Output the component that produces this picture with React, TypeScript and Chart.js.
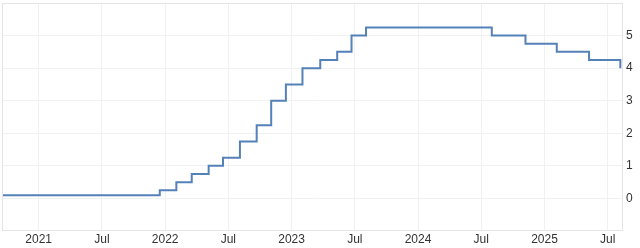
import React, { useEffect, useRef } from "react";
import { Chart, registerables } from "chart.js";

Chart.register(...registerables);

// UK Bank Rate decisions (date of change, new rate %)
const changeDates = [
  "2020-09-01",
  "2021-12-16",
  "2022-02-03",
  "2022-03-17",
  "2022-05-05",
  "2022-06-16",
  "2022-08-04",
  "2022-09-22",
  "2022-11-03",
  "2022-12-15",
  "2023-02-02",
  "2023-03-23",
  "2023-05-11",
  "2023-06-22",
  "2023-08-03",
  "2024-08-01",
  "2024-11-07",
  "2025-02-06",
  "2025-05-08",
  "2025-08-07",
];
const rates = [
  0.1, 0.25, 0.5, 0.75, 1.0, 1.25, 1.75, 2.25, 3.0, 3.5, 4.0, 4.25, 4.5, 5.0,
  5.25, 5.0, 4.75, 4.5, 4.25, 4.0,
];
const yearLabels = ["2021", "2022", "2023", "2024", "2025"];
const midLabel = "Jul";
const yTickLabels = ["0", "1", "2", "3", "4", "5"];

// months since Jan 2021
function toMonths(d: string): number {
  const [y, m, day] = d.split("-").map(Number);
  return (y - 2021) * 12 + (m - 1) + (day - 1) / 30.5;
}

const frame = {
  id: "frame",
  afterDraw(chart: any) {
    const { ctx, chartArea } = chart;
    ctx.save();
    ctx.strokeStyle = "#e4e4e4";
    ctx.lineWidth = 1;
    ctx.strokeRect(
      Math.round(chartArea.left) + 0.5,
      Math.round(chartArea.top) + 0.5,
      Math.round(chartArea.right - chartArea.left) - 1,
      Math.round(chartArea.bottom - chartArea.top) - 1
    );
    ctx.restore();
  },
};

export default function App() {
  const ref = useRef<HTMLCanvasElement | null>(null);
  useEffect(() => {
    if (!ref.current) return;
    const points = changeDates.map((d, i) => ({ x: toMonths(d), y: rates[i] }));
    const font = { family: "Arial, 'Liberation Sans', sans-serif", size: 12 };
    const chart = new Chart(ref.current, {
      type: "line",
      data: {
        datasets: [
          {
            data: points,
            stepped: true,
            borderColor: "#5581b9",
            borderWidth: 2,
            pointRadius: 0,
            fill: false,
          },
        ],
      },
      options: {
        animation: false,
        responsive: false,
        maintainAspectRatio: false,
        layout: { padding: { left: 2, right: 0, top: 3, bottom: 0 } },
        plugins: { legend: { display: false }, tooltip: { enabled: false } },
        scales: {
          x: {
            type: "linear",
            min: -3.48,
            max: 55.45,
            grid: { color: "#f1f1f1", drawTicks: false },
            border: { display: false },
            afterFit: (s: any) => {
              s.height = 17;
              s.paddingLeft = 0;
              s.paddingRight = 0;
            },
            ticks: {
              stepSize: 6,
              includeBounds: false,
              autoSkip: false,
              maxRotation: 0,
              padding: 1,
              color: "#333",
              font,
              callback: (v: any) => {
                const n = Number(v);
                if (n % 12 === 0) return yearLabels[n / 12] ?? "";
                return midLabel;
              },
            },
          },
          y: {
            position: "right",
            min: -1,
            max: 6,
            grid: { color: "#f1f1f1", drawTicks: false },
            border: { display: false },
            afterFit: (s: any) => {
              s.width = 17;
              s.paddingTop = 0;
              s.paddingBottom = 0;
            },
            ticks: {
              stepSize: 1,
              padding: 3,
              color: "#333",
              font,
              callback: (v: any) => {
                const n = Number(v);
                if (n < 0 || n > 5) return null as any;
                return yTickLabels[n];
              },
            },
          },
        },
      },
      plugins: [frame],
    });
    return () => chart.destroy();
  }, []);
  return (
    <div style={{ position: "fixed", left: 0, top: 0, width: 640, height: 248, background: "#fff" }}>
      <canvas ref={ref} width={640} height={248} />
    </div>
  );
}
